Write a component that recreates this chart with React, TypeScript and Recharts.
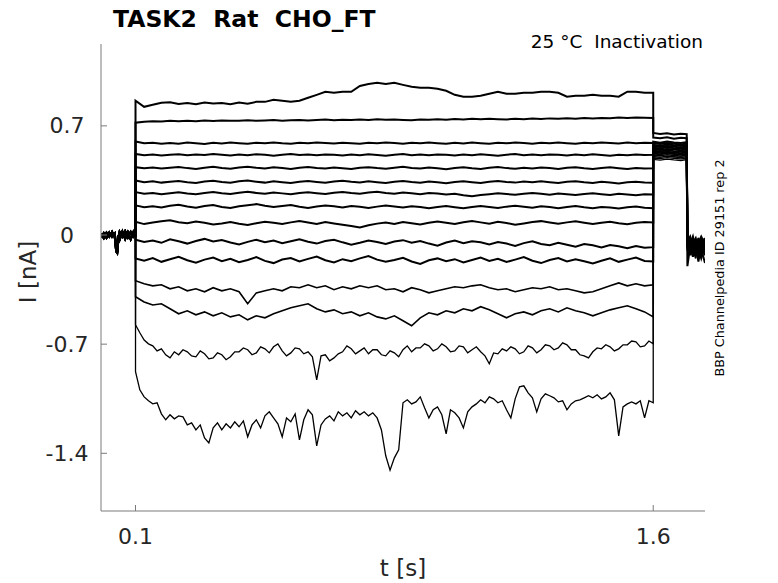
import React from "react";
import { LineChart, Line, XAxis, YAxis } from "recharts";

// time grid of the step (s)
const TIME = [
  0.1, 0.125, 0.15, 0.175, 0.2, 0.225, 0.25, 0.275, 0.3, 0.325,
  0.35, 0.375, 0.4, 0.425, 0.45, 0.475, 0.5, 0.525, 0.55, 0.575,
  0.6, 0.625, 0.65, 0.675, 0.7, 0.725, 0.75, 0.775, 0.8, 0.825,
  0.85, 0.875, 0.9, 0.925, 0.95, 0.975, 1.0, 1.025, 1.05, 1.075,
  1.1, 1.125, 1.15, 1.175, 1.2, 1.225, 1.25, 1.275, 1.3, 1.325,
  1.35, 1.375, 1.4, 1.425, 1.45, 1.475, 1.5, 1.525, 1.55, 1.575,
  1.6,
];

// finer grid for the two noisiest sweeps
const FINE_TIME = [
  0.1, 0.1125, 0.125, 0.1375, 0.15, 0.1625, 0.175, 0.1875, 0.2, 0.2125,
  0.225, 0.2375, 0.25, 0.2625, 0.275, 0.2875, 0.3, 0.3125, 0.325, 0.3375,
  0.35, 0.3625, 0.375, 0.3875, 0.4, 0.4125, 0.425, 0.4375, 0.45, 0.4625,
  0.475, 0.4875, 0.5, 0.5125, 0.525, 0.5375, 0.55, 0.5625, 0.575, 0.5875,
  0.6, 0.6125, 0.625, 0.6375, 0.65, 0.6625, 0.675, 0.6875, 0.7, 0.7125,
  0.725, 0.7375, 0.75, 0.7625, 0.775, 0.7875, 0.8, 0.8125, 0.825, 0.8375,
  0.85, 0.8625, 0.875, 0.8875, 0.9, 0.9125, 0.925, 0.9375, 0.95, 0.9625,
  0.975, 0.9875, 1.0, 1.0125, 1.025, 1.0375, 1.05, 1.0625, 1.075, 1.0875,
  1.1, 1.1125, 1.125, 1.1375, 1.15, 1.1625, 1.175, 1.1875, 1.2, 1.2125,
  1.225, 1.2375, 1.25, 1.2625, 1.275, 1.2875, 1.3, 1.3125, 1.325, 1.3375,
  1.35, 1.3625, 1.375, 1.3875, 1.4, 1.4125, 1.425, 1.4375, 1.45, 1.4625,
  1.475, 1.4875, 1.5, 1.5125, 1.525, 1.5375, 1.55, 1.5625, 1.575, 1.5875,
  1.6,
];

// holding segment before the step
const PRE_T = [0, 0.008, 0.016, 0.024, 0.032, 0.04, 0.044, 0.047, 0.05, 0.054, 0.062, 0.07, 0.078, 0.086, 0.094, 0.1];
const PRE_A = [0.01, -0.02, 0.015, -0.01, 0.02, -0.015, -0.105, -0.115, -0.04, 0.02, -0.01, 0.025, -0.015, 0.02, -0.01, 0.015];
const PRE_B = [-0.015, 0.012, -0.018, 0.016, -0.012, 0.01, -0.08, -0.11, 0.0, -0.03, 0.022, -0.025, 0.018, -0.028, 0.02, -0.01];

// test pulse + return to holding
const END_T = [1.6, 1.62, 1.64, 1.66, 1.68, 1.697, 1.699, 1.707, 1.715, 1.723, 1.731, 1.739, 1.75];

const STEP_1 = [
  0.861, 0.822, 0.835, 0.848, 0.851, 0.84, 0.846, 0.838, 0.85, 0.843,
  0.847, 0.839, 0.849, 0.842, 0.854, 0.854, 0.867, 0.861, 0.854, 0.861,
  0.88, 0.899, 0.919, 0.912, 0.919, 0.919, 0.956, 0.969, 0.976, 0.969,
  0.976, 0.963, 0.951, 0.944, 0.944, 0.938, 0.925, 0.899, 0.887, 0.887,
  0.893, 0.906, 0.919, 0.906, 0.906, 0.912, 0.912, 0.919, 0.919, 0.912,
  0.887, 0.893, 0.893, 0.899, 0.893, 0.893, 0.887, 0.919, 0.919, 0.912,
  0.912,
];
const STEP_2 = [
  0.72, 0.726, 0.73, 0.728, 0.732, 0.729, 0.733, 0.73, 0.734, 0.731,
  0.735, 0.732, 0.733, 0.736, 0.732, 0.735, 0.737, 0.733, 0.736, 0.738,
  0.735, 0.737, 0.74, 0.736, 0.739, 0.737, 0.74, 0.738, 0.742, 0.739,
  0.741, 0.738, 0.736, 0.741, 0.739, 0.743, 0.74, 0.744, 0.741, 0.745,
  0.742, 0.746, 0.743, 0.741, 0.745, 0.743, 0.747, 0.744, 0.748, 0.745,
  0.749, 0.746, 0.75, 0.748, 0.751, 0.749, 0.753, 0.75, 0.754, 0.752,
  0.751,
];
const STEP_3 = [
  0.6, 0.588, 0.592, 0.585, 0.59, 0.586, 0.593, 0.588, 0.584, 0.591,
  0.587, 0.593, 0.589, 0.585, 0.592, 0.588, 0.594, 0.589, 0.586, 0.591,
  0.588, 0.594, 0.59, 0.587, 0.592, 0.588, 0.585, 0.591, 0.589, 0.594,
  0.59, 0.586, 0.592, 0.588, 0.593, 0.589, 0.585, 0.591, 0.587, 0.593,
  0.589, 0.585, 0.592, 0.588, 0.594, 0.59, 0.586, 0.591, 0.588, 0.593,
  0.589, 0.586, 0.592, 0.588, 0.594, 0.59, 0.587, 0.593, 0.589, 0.592,
  0.59,
];
const STEP_4 = [
  0.52, 0.512, 0.516, 0.51, 0.515, 0.518, 0.511, 0.516, 0.513, 0.519,
  0.514, 0.51, 0.517, 0.512, 0.518, 0.514, 0.509, 0.515, 0.519, 0.513,
  0.516, 0.511, 0.517, 0.514, 0.51, 0.516, 0.512, 0.518, 0.513, 0.509,
  0.515, 0.519, 0.512, 0.516, 0.511, 0.517, 0.514, 0.51, 0.516, 0.512,
  0.518, 0.513, 0.509, 0.515, 0.519, 0.512, 0.516, 0.511, 0.517, 0.514,
  0.51, 0.516, 0.512, 0.518, 0.513, 0.509, 0.515, 0.512, 0.517, 0.513,
  0.515,
];
const STEP_5 = [
  0.435, 0.428, 0.433, 0.426, 0.431, 0.436, 0.429, 0.424, 0.432, 0.437,
  0.43, 0.425, 0.433, 0.438, 0.431, 0.427, 0.434, 0.429, 0.424, 0.432,
  0.436, 0.43, 0.426, 0.433, 0.428, 0.423, 0.431, 0.435, 0.429, 0.425,
  0.432, 0.437, 0.43, 0.426, 0.433, 0.428, 0.422, 0.43, 0.434, 0.428,
  0.424, 0.431, 0.436, 0.429, 0.425, 0.432, 0.427, 0.433, 0.429, 0.424,
  0.431, 0.435, 0.428, 0.424, 0.43, 0.434, 0.428, 0.423, 0.43, 0.426,
  0.428,
];
const STEP_6 = [
  0.35, 0.338, 0.344, 0.336, 0.341, 0.347, 0.339, 0.334, 0.343, 0.348,
  0.34, 0.335, 0.345, 0.349, 0.342, 0.336, 0.344, 0.339, 0.333, 0.341,
  0.346, 0.34, 0.335, 0.343, 0.348, 0.341, 0.337, 0.344, 0.339, 0.334,
  0.342, 0.347, 0.34, 0.335, 0.343, 0.338, 0.332, 0.34, 0.345, 0.339,
  0.334, 0.342, 0.346, 0.34, 0.336, 0.343, 0.338, 0.344, 0.339, 0.333,
  0.341, 0.345, 0.338, 0.334, 0.341, 0.336, 0.331, 0.338, 0.342, 0.336,
  0.335,
];
const STEP_7 = [
  0.275, 0.265, 0.27, 0.262, 0.268, 0.274, 0.266, 0.261, 0.27, 0.276,
  0.268, 0.263, 0.271, 0.277, 0.27, 0.264, 0.272, 0.267, 0.261, 0.269,
  0.274, 0.268, 0.263, 0.271, 0.276, 0.269, 0.264, 0.272, 0.278, 0.27,
  0.265, 0.273, 0.268, 0.262, 0.27, 0.266, 0.26, 0.264, 0.255, 0.248,
  0.256, 0.262, 0.268, 0.263, 0.258, 0.265, 0.27, 0.264, 0.259, 0.266,
  0.261, 0.256, 0.263, 0.268, 0.262, 0.257, 0.264, 0.26, 0.255, 0.262,
  0.26,
];
const STEP_8 = [
  0.19, 0.178, 0.185, 0.176, 0.188, 0.194, 0.183, 0.175, 0.186, 0.192,
  0.18, 0.173, 0.185, 0.191, 0.198, 0.187, 0.179, 0.186, 0.192, 0.181,
  0.174, 0.183, 0.19, 0.184, 0.177, 0.186, 0.181, 0.174, 0.182, 0.189,
  0.183, 0.176, 0.185, 0.179, 0.172, 0.18, 0.186, 0.178, 0.171, 0.179,
  0.186, 0.18, 0.173, 0.182, 0.188, 0.181, 0.175, 0.184, 0.179, 0.172,
  0.18, 0.186, 0.178, 0.172, 0.18, 0.176, 0.17, 0.178, 0.183, 0.175,
  0.172,
];
const STEP_9 = [
  0.085, 0.07, 0.08, 0.088, 0.095, 0.082, 0.075, 0.086, 0.079, 0.068,
  0.074, 0.083, 0.072, 0.064, 0.076, 0.085, 0.078, 0.07, 0.081, 0.089,
  0.08, 0.071, 0.083, 0.074, 0.066, 0.058, 0.048, 0.062, 0.073, 0.08,
  0.071, 0.084, 0.076, 0.068, 0.079, 0.087, 0.078, 0.07, 0.082, 0.09,
  0.081, 0.073, 0.085, 0.077, 0.066, 0.074, 0.083, 0.089, 0.08, 0.072,
  0.081, 0.088, 0.079, 0.07, 0.078, 0.085, 0.076, 0.069, 0.078, 0.084,
  0.08,
];
const STEP_10 = [
  -0.03, -0.045, -0.035, -0.05, -0.028, -0.04, -0.055, -0.038, -0.025, -0.042,
  -0.032, -0.048, -0.06, -0.044, -0.03, -0.046, -0.036, -0.052, -0.04, -0.028,
  -0.043, -0.055, -0.038, -0.03, -0.047, -0.062, -0.05, -0.036, -0.045, -0.058,
  -0.042, -0.033, -0.05, -0.038, -0.055, -0.068, -0.048, -0.035, -0.052, -0.04,
  -0.046, -0.06, -0.045, -0.055, -0.07, -0.052, -0.04, -0.058, -0.066, -0.05,
  -0.062, -0.075, -0.058, -0.066, -0.08, -0.064, -0.072, -0.085, -0.07, -0.082,
  -0.078,
];
const STEP_11 = [
  -0.15, -0.165, -0.148, -0.172, -0.155, -0.14, -0.162, -0.178, -0.158, -0.145,
  -0.168, -0.152, -0.175, -0.16, -0.142, -0.166, -0.18, -0.157, -0.148, -0.17,
  -0.153, -0.138, -0.162, -0.176, -0.155, -0.168, -0.15, -0.135, -0.158, -0.172,
  -0.16, -0.146, -0.17, -0.185, -0.162, -0.15, -0.168, -0.155, -0.176, -0.16,
  -0.145, -0.166, -0.152, -0.173, -0.158, -0.142, -0.165, -0.18, -0.16, -0.148,
  -0.17, -0.155, -0.168, -0.182, -0.165, -0.15, -0.172, -0.158, -0.145, -0.166,
  -0.17,
];
const STEP_12 = [
  -0.293, -0.313, -0.326, -0.319, -0.345, -0.332, -0.358, -0.345, -0.364, -0.338,
  -0.358, -0.345, -0.364, -0.441, -0.371, -0.358, -0.345, -0.358, -0.332, -0.338,
  -0.319, -0.338, -0.326, -0.351, -0.332, -0.345, -0.326, -0.338, -0.326, -0.351,
  -0.345, -0.364, -0.338, -0.351, -0.371, -0.358, -0.345, -0.332, -0.338, -0.326,
  -0.319, -0.338, -0.351, -0.345, -0.364, -0.351, -0.338, -0.345, -0.332, -0.351,
  -0.345, -0.358, -0.371, -0.364, -0.345, -0.326, -0.307, -0.326, -0.313, -0.326,
  -0.319,
];
const STEP_13 = [
  -0.396, -0.429, -0.449, -0.441, -0.473, -0.505, -0.486, -0.512, -0.493, -0.518,
  -0.499, -0.525, -0.512, -0.544, -0.518, -0.531, -0.505, -0.486, -0.467, -0.454,
  -0.441, -0.473, -0.493, -0.48, -0.505, -0.493, -0.518, -0.499, -0.525, -0.538,
  -0.518, -0.55, -0.582, -0.531, -0.499, -0.512, -0.486, -0.499, -0.473, -0.486,
  -0.46, -0.48, -0.505, -0.531, -0.505, -0.493, -0.512, -0.486, -0.473, -0.493,
  -0.467, -0.486, -0.499, -0.518, -0.499, -0.48, -0.467, -0.454, -0.473, -0.493,
  -0.525,
];
// sampled on FINE_TIME
const STEP_14 = [
  -0.576, -0.627, -0.674, -0.698, -0.711, -0.743, -0.73, -0.768, -0.788, -0.749,
  -0.768, -0.736, -0.749, -0.775, -0.781, -0.743, -0.762, -0.794, -0.788, -0.756,
  -0.768, -0.8, -0.781, -0.749, -0.749, -0.724, -0.736, -0.768, -0.756, -0.717,
  -0.73, -0.756, -0.717, -0.698, -0.743, -0.775, -0.756, -0.724, -0.73, -0.762,
  -0.749, -0.781, -0.929, -0.775, -0.768, -0.807, -0.788, -0.762, -0.749, -0.711,
  -0.73, -0.762, -0.743, -0.724, -0.762, -0.736, -0.736, -0.768, -0.775, -0.743,
  -0.756, -0.781, -0.736, -0.711, -0.749, -0.724, -0.724, -0.698, -0.711, -0.743,
  -0.73, -0.698, -0.717, -0.749, -0.743, -0.711, -0.717, -0.756, -0.736, -0.717,
  -0.749, -0.775, -0.826, -0.756, -0.762, -0.73, -0.743, -0.717, -0.73, -0.762,
  -0.749, -0.711, -0.724, -0.756, -0.736, -0.704, -0.711, -0.736, -0.724, -0.692,
  -0.704, -0.736, -0.736, -0.768, -0.775, -0.788, -0.749, -0.724, -0.73, -0.704,
  -0.717, -0.743, -0.73, -0.704, -0.704, -0.68, -0.685, -0.717, -0.711, -0.68,
  -0.698,
];
const STEP_15 = [
  -0.877, -0.993, -1.038, -1.063, -1.083, -1.076, -1.147, -1.185, -1.153, -1.179,
  -1.16, -1.166, -1.218, -1.205, -1.25, -1.218, -1.301, -1.333, -1.237, -1.205,
  -1.25, -1.211, -1.237, -1.198, -1.23, -1.192, -1.294, -1.218, -1.185, -1.237,
  -1.16, -1.134, -1.173, -1.211, -1.294, -1.173, -1.198, -1.147, -1.314, -1.185,
  -1.121, -1.153, -1.352, -1.218, -1.179, -1.16, -1.192, -1.134, -1.16, -1.14,
  -1.173, -1.127, -1.153, -1.134, -1.16, -1.14, -1.173, -1.25, -1.416, -1.508,
  -1.429, -1.378, -1.076, -1.057, -1.083, -1.07, -1.038, -1.108, -1.173, -1.121,
  -1.102, -1.153, -1.275, -1.121, -1.14, -1.173, -1.237, -1.134, -1.102, -1.083,
  -1.057, -1.076, -1.038, -1.051, -1.076, -1.063, -1.121, -1.173, -1.051, -0.974,
  -0.967, -1.012, -1.044, -1.134, -1.051, -1.019, -1.031, -1.044, -1.07, -1.063,
  -1.121, -1.083, -1.063, -1.057, -1.044, -1.031, -1.044, -1.025, -1.051, -1.038,
  -1.012, -1.057, -1.288, -1.102, -1.083, -1.07, -1.083, -1.063, -1.173, -1.063,
  -1.076,
];

const END_1 = [0.655, 0.648, 0.652, 0.645, 0.65, 0.647, -0.02, -0.06, -0.01, -0.09, -0.04, -0.12, -0.05];
const END_2 = [0.625, 0.62, 0.627, 0.618, 0.624, 0.621, -0.04, -0.01, -0.08, -0.03, -0.1, -0.05, -0.02];
const END_3 = [0.598, 0.592, 0.6, 0.594, 0.59, 0.596, -0.2, -0.07, -0.13, -0.04, -0.09, -0.15, -0.06];
const END_4 = [0.588, 0.583, 0.59, 0.585, 0.581, 0.587, -0.01, -0.09, -0.03, -0.11, -0.06, -0.02, -0.08];
const END_5 = [0.578, 0.573, 0.58, 0.575, 0.571, 0.577, -0.05, -0.02, -0.1, -0.06, -0.14, -0.08, -0.11];
const END_6 = [0.569, 0.564, 0.571, 0.566, 0.562, 0.568, -0.03, -0.11, -0.04, -0.08, -0.02, -0.1, -0.05];
const END_7 = [0.56, 0.555, 0.562, 0.557, 0.553, 0.559, -0.08, -0.04, -0.12, -0.07, -0.17, -0.06, -0.09];
const END_8 = [0.55, 0.546, 0.552, 0.548, 0.544, 0.549, 0.0, -0.05, -0.02, -0.09, -0.04, -0.07, -0.13];
const END_9 = [0.541, 0.536, 0.543, 0.538, 0.534, 0.54, -0.06, -0.13, -0.05, -0.02, -0.1, -0.04, -0.07];
const END_10 = [0.532, 0.527, 0.534, 0.529, 0.525, 0.531, -0.02, -0.08, -0.14, -0.06, -0.03, -0.09, -0.18];
const END_11 = [0.522, 0.518, 0.524, 0.52, 0.516, 0.521, -0.1, -0.03, -0.07, -0.12, -0.05, -0.01, -0.06];
const END_12 = [0.513, 0.508, 0.515, 0.51, 0.506, 0.512, -0.04, -0.1, -0.02, -0.07, -0.13, -0.08, -0.03];
const END_13 = [0.503, 0.499, 0.505, 0.501, 0.497, 0.502, -0.07, -0.02, -0.09, -0.15, -0.06, -0.11, -0.04];
const END_14 = [0.494, 0.49, 0.496, 0.492, 0.488, 0.493, -0.01, -0.06, -0.11, -0.04, -0.08, -0.03, -0.1];
const END_15 = [0.485, 0.48, 0.487, 0.482, 0.478, 0.484, -0.09, -0.04, -0.06, -0.1, -0.02, -0.14, -0.07];

const STEPS = [STEP_1, STEP_2, STEP_3, STEP_4, STEP_5, STEP_6, STEP_7, STEP_8, STEP_9, STEP_10, STEP_11, STEP_12, STEP_13, STEP_14, STEP_15];
const ENDS = [END_1, END_2, END_3, END_4, END_5, END_6, END_7, END_8, END_9, END_10, END_11, END_12, END_13, END_14, END_15];

const X_TICKS = [0.1, 1.6];
const Y_TICKS = [-1.4, -0.7, 0, 0.7];

const FONT = "DejaVu Sans";
const AXIS = "#7a7a7a";
const INK = "#262626";
const AX_LEFT = 101;
const AX_BOTTOM = 511;

const series = STEPS.map((step, i) => {
  const grid = step.length === FINE_TIME.length ? FINE_TIME : TIME;
  const pre = i % 2 === 0 ? PRE_A : PRE_B;
  return [
    ...PRE_T.map((t, j) => ({ t, v: pre[j] })),
    ...grid.map((t, j) => ({ t, v: step[j] })),
    ...END_T.map((t, j) => ({ t, v: ENDS[i][j] })),
  ];
});

const widthFor = (i: number) => (i < 11 ? 2 : i < 13 ? 1.6 : 1.3);

const YTick = (props: any) => {
  const { y, payload } = props;
  return (
    <g>
      <line x1={AX_LEFT} x2={AX_LEFT + 6} y1={y} y2={y} stroke={AXIS} />
      <text x={67} y={y} textAnchor="middle" dominantBaseline="central" fontFamily={FONT} fontSize={22} fill={INK}>
        {String(payload.value)}
      </text>
    </g>
  );
};

const XTick = (props: any) => {
  const { x, payload } = props;
  return (
    <g>
      <line x1={x} x2={x} y1={AX_BOTTOM} y2={AX_BOTTOM - 6} stroke={AXIS} />
      <text x={x} y={536} textAnchor="middle" dominantBaseline="central" fontFamily={FONT} fontSize={22} fill={INK}>
        {String(payload.value)}
      </text>
    </g>
  );
};

export default function App() {
  return (
    <div style={{ position: "absolute", left: 0, top: 0, width: 778, height: 583, background: "#fff" }}>
      <LineChart width={778} height={583} margin={{ top: 44, right: 73, bottom: 42, left: 41 }}>
        <XAxis
          dataKey="t"
          type="number"
          domain={[0, 1.75]}
          ticks={X_TICKS}
          height={30}
          allowDataOverflow
          axisLine={{ stroke: AXIS }}
          tickLine={false}
          tick={<XTick />}
        />
        <YAxis
          dataKey="v"
          type="number"
          domain={[-1.77, 1.225]}
          ticks={Y_TICKS}
          width={60}
          allowDataOverflow
          axisLine={{ stroke: AXIS }}
          tickLine={false}
          tick={<YTick />}
        />
        {series.map((d, i) => (
          <Line
            key={i}
            data={d}
            dataKey="v"
            type="linear"
            stroke="#000"
            strokeWidth={widthFor(i)}
            strokeLinejoin="miter"
            dot={false}
            activeDot={false}
            isAnimationActive={false}
          />
        ))}
      </LineChart>
      <svg width={778} height={583} style={{ position: "absolute", left: 0, top: 0, pointerEvents: "none" }}>
        <text x={113} y={27} fontFamily={FONT} fontWeight="bold" fontSize={23.5} fill="#000" style={{ whiteSpace: "pre" }}>
          {"TASK2  Rat  CHO_FT"}
        </text>
        <text x={703} y={48} textAnchor="end" fontFamily={FONT} fontSize={18.5} fill="#000" style={{ whiteSpace: "pre" }}>
          {"25 °C  Inactivation"}
        </text>
        <text
          x={0}
          y={0}
          transform="translate(36 272) rotate(-90)"
          textAnchor="middle"
          fontFamily={FONT}
          fontSize={23}
          fill={INK}
        >
          I [nA]
        </text>
        <text x={403} y={576} textAnchor="middle" fontFamily={FONT} fontSize={23} fill={INK}>
          t [s]
        </text>
        <text
          x={0}
          y={0}
          transform="translate(724 268) rotate(-90)"
          textAnchor="middle"
          fontFamily={FONT}
          fontSize={12.8}
          fill="#000"
        >
          BBP Channelpedia ID 29151 rep 2
        </text>
      </svg>
    </div>
  );
}
